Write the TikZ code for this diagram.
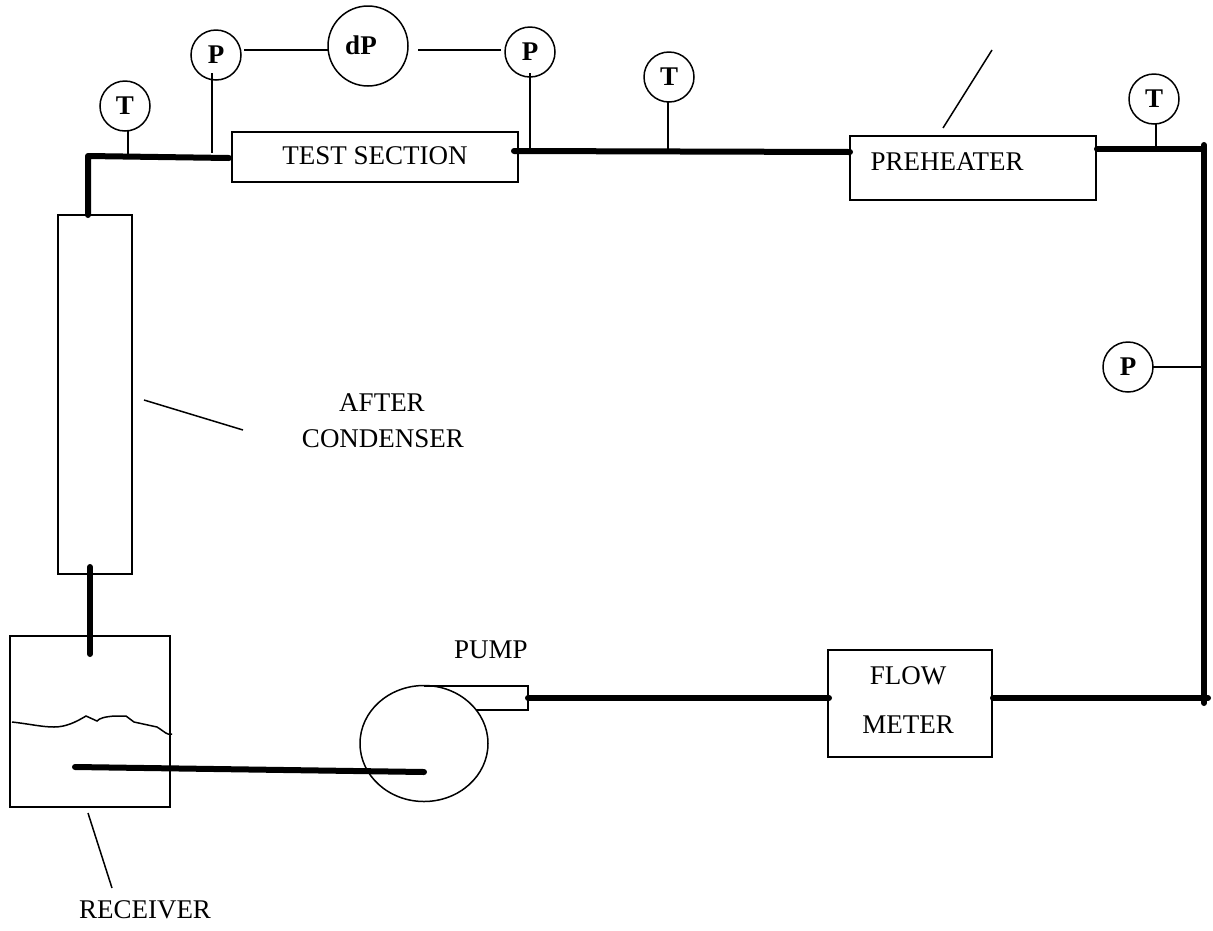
\documentclass[tikz,border=0pt]{standalone}
\usepackage{fontspec}
\setmainfont{Liberation Serif}
\usetikzlibrary{shapes.geometric}
\tikzset{
    box/.style={draw, line width=1.5pt, inner sep=0pt, outer sep=0pt},
    gauge/.style={draw, circle, line width=1.5pt, inner sep=0pt, outer sep=0pt, minimum size=50pt, font=\fontsize{27}{30}\selectfont\bfseries},
    caption/.style={inner sep=0pt, font=\fontsize{27}{30}\selectfont},
    pipe/.style={line width=6pt, line cap=round, line join=round},
    tap/.style={line width=1.5pt}
}

\begin{document}
\begin{tikzpicture}[x=1pt, y=-1pt]
    \useasboundingbox (0,0) rectangle (1213,930);

    % Equipment
    \node[box, minimum width=286pt, minimum height=50pt] (test) at (375,157) {};
    \node[caption] (testtext) at (375,156) {TEST SECTION};
    \node[box, minimum width=246pt, minimum height=64pt] (preheater) at (973,168) {};
    \node[caption] (preheatertext) at (947,162) {PREHEATER};
    \node[box, minimum width=74pt, minimum height=359pt] (condenser) at (95,394.5) {};
    \node[box, minimum width=160pt, minimum height=171pt] (receiver) at (90,721.5) {};
    \node[box, minimum width=164pt, minimum height=107pt] (meter) at (910,703.5) {};
    \node[caption] (flowtext) at (908,676) {FLOW};
    \node[caption] (metertext) at (908,725) {METER};

    % Pump
    \draw[line width=1.5pt] (424,686) -- (528,686) -- (528,710) -- (476,710);
    \node[box, ellipse, minimum width=128pt, minimum height=116pt] (pump) at (424,743.5) {};
    \node[caption] (pumptext) at (491,650) {PUMP};

    % Gauges
    \node[gauge] (t1) at (125,106) {T};
    \node[gauge] (p1) at (216,55) {P};
    \node[gauge, minimum size=80pt] (dp) at (368,46) {};
    \node[caption, font=\fontsize{27}{30}\selectfont\bfseries] (dptext) at (361,45) {dP};
    \node[gauge] (p2) at (530,52) {P};
    \node[gauge] (t2) at (669,77) {T};
    \node[gauge] (t3) at (1154,99) {T};
    \node[gauge] (p3) at (1128,367) {P};

    % Pipe points
    \coordinate (condtop) at (88,215);
    \coordinate (bend) at (88,156);
    \coordinate (testin) at (229,158);
    \coordinate (testout) at (514,151);
    \coordinate (heatin) at (850,152);
    \coordinate (heatout) at (1097,149);
    \coordinate (corner) at (1204,149);
    \coordinate (righttop) at (1204,145);
    \coordinate (rightlow) at (1204,703);
    \coordinate (rightend) at (1208,698);
    \coordinate (meterout) at (993,698);
    \coordinate (meterin) at (829,698);
    \coordinate (pumpout) at (528,698);
    \coordinate (dipin) at (424,772);
    \coordinate (dipend) at (75,767);
    \coordinate (condlow) at (90,567);
    \coordinate (recvin) at (90,654);

    % Pipes
    \draw[pipe] (condtop) -- (bend) -- (testin);
    \draw[pipe] (testout) -- (heatin);
    \draw[pipe] (heatout) -- (corner);
    \draw[pipe] (righttop) -- (rightlow);
    \draw[pipe] (meterout) -- (rightend);
    \draw[pipe] (pumpout) -- (meterin);
    \draw[pipe] (dipin) -- (dipend);
    \draw[pipe] (condlow) -- (recvin);

    % Gauge tappings
    \draw[tap] (128,131) -- (128,155);
    \draw[tap] (212,73) -- (212,153);
    \draw[tap] (530,73) -- (530,150);
    \draw[tap] (668,102) -- (668,152);
    \draw[tap] (1156,124) -- (1156,148);
    \draw[tap] (p3.east) -- (1203,367);
    \draw[tap] (244,50) -- (328,50);
    \draw[tap] (418,50) -- (501,50);

    % Leaders
    \draw[tap] (992,50) -- (943,128);
    \draw[tap] (144,400) -- (243,430);
    \draw[tap] (88,813) -- (112,888);

    % Liquid level
    \draw[line width=1.5pt] (12,722) .. controls (30,724) and (42,727) .. (54,727)
        .. controls (66,727) and (76,722) .. (86,716) -- (97,721)
        .. controls (100,718) and (104,717) .. (114,716) -- (126,716)
        -- (134,722) -- (157,727) .. controls (162,730) and (165,733) .. (168,734) -- (172,734);

    % Remaining labels
    \node[caption] (aftertext) at (382,403) {AFTER};
    \node[caption] (condensertext) at (383,439) {CONDENSER};
    \node[caption] (receivertext) at (145,910) {RECEIVER};
\end{tikzpicture}
\end{document}
